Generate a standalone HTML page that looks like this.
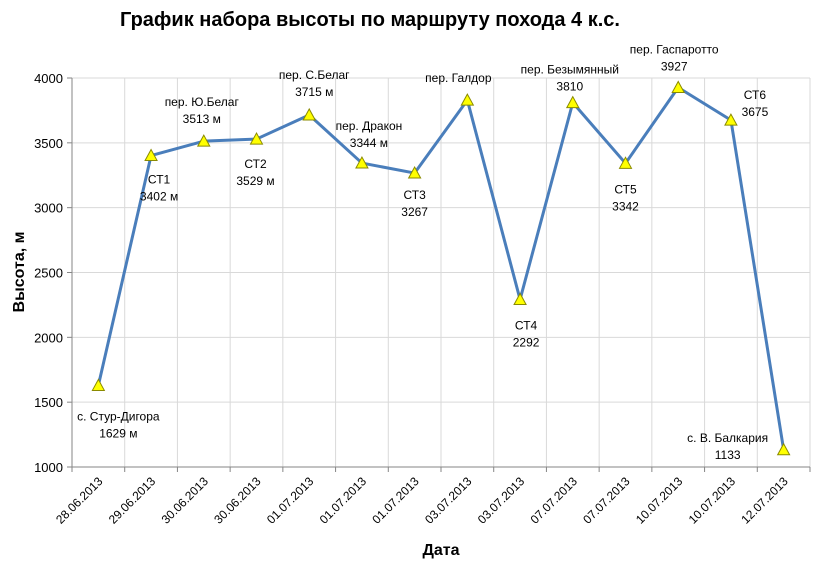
<!DOCTYPE html>
<html><head><meta charset="utf-8"><style>
body{margin:0;background:#fff}
svg text{font-family:"Liberation Sans","DejaVu Sans",sans-serif}
</style></head><body>
<svg id="c" width="830" height="572"></svg>
<script>
const categories=["28.06.2013","29.06.2013","30.06.2013","30.06.2013","01.07.2013","01.07.2013","01.07.2013","03.07.2013","03.07.2013","07.07.2013","07.07.2013","10.07.2013","10.07.2013","12.07.2013"];
const altitudes=[1629,3402,3513,3529,3715,3344,3267,3829,2292,3810,3342,3927,3675,1133];
const pointNames=["с. Стур-Дигора","СТ1","пер. Ю.Белаг","СТ2","пер. С.Белаг","пер. Дракон","СТ3","пер. Галдор","СТ4","пер. Безымянный","СТ5","пер. Гаспаротто","СТ6","с. В. Балкария"];
const valueLabels=["1629 м","3402 м","3513 м","3529 м","3715 м","3344 м","3267","","2292","3810","3342","3927","3675","1133"];
const yTicks=[1000,1500,2000,2500,3000,3500,4000];
const labelOffsets=[[20,23],[8,16],[-2,-47],[-1,17],[5,-48],[7,-45],[0,14],[-9,-30],[6,18],[-3,-41],[0,18],[-4,-46],[24,-33],[-56,-20]];
const NS="http://www.w3.org/2000/svg",svg=document.getElementById('c');
const L=72,R=810,T=78,B=467,ymin=1000,ymax=4000;
const bw=(R-L)/categories.length;
const x=i=>L+bw*(i+0.5), y=v=>B-(v-ymin)/(ymax-ymin)*(B-T);
function mk(t,a,p){const e=document.createElementNS(NS,t);for(const k in a)e.setAttribute(k,a[k]);(p||svg).appendChild(e);return e;}
const title=mk('text',{x:370,y:26,'text-anchor':'middle','font-size':20,'font-weight':'bold',fill:'#000'});


title.textContent='График набора высоты по маршруту похода 4 к.с.';
yTicks.forEach(v=>{
  const g=mk('line',{x1:L,x2:R,y1:y(v),y2:y(v),stroke:'#d9d9d9'});
  
  
  mk('line',{x1:L-5,x2:L,y1:y(v),y2:y(v),stroke:'#868686'});
  const t=mk('text',{x:L-9,y:y(v)+5,'text-anchor':'end','font-size':13,fill:'#000'});
  
  
  t.textContent=v;
});
for(let i=1;i<=categories.length;i++){
  const gx=L+bw*i;
  const g=mk('line',{x1:gx,x2:gx,y1:T,y2:B,stroke:'#d9d9d9'});
  
  
}
for(let i=0;i<=categories.length;i++){mk('line',{x1:L+bw*i,x2:L+bw*i,y1:B,y2:B+5,stroke:'#868686'});}
mk('line',{x1:L,x2:L,y1:T,y2:B,stroke:'#868686'});
mk('line',{x1:L,x2:R,y1:B,y2:B,stroke:'#868686'});
categories.forEach((c,i)=>{
  const t=mk('text',{x:0,y:0,'text-anchor':'end','font-size':12,fill:'#000',transform:`translate(${x(i)+5},${B+15}) rotate(-45)`});
  
  
  t.textContent=c;
});
const line=mk('polyline',{points:altitudes.map((v,i)=>x(i)+','+y(v)).join(' '),fill:'none',stroke:'#4a7ebb','stroke-width':3,'stroke-linejoin':'round'});


altitudes.forEach((v,i)=>{
  const px=x(i),py=y(v);
  const m=mk('polygon',{points:`${px},${py-6} ${px-6},${py+5} ${px+6},${py+5}`,fill:'#ffff00',stroke:'#8a8a00','stroke-width':1});
  
  
  const o=labelOffsets[i];
  const t1=mk('text',{x:px+o[0],y:py+o[1]+12,'text-anchor':'middle','font-size':12,fill:'#000'});
  
  
  t1.textContent=pointNames[i];
  if(valueLabels[i]){
    const t2=mk('text',{x:px+o[0],y:py+o[1]+29,'text-anchor':'middle','font-size':12,fill:'#000'});
    
    
    t2.textContent=valueLabels[i];
  }
});
const xt=mk('text',{x:441,y:555,'text-anchor':'middle','font-size':16,'font-weight':'bold',fill:'#000'});


xt.textContent='Дата';
const yt=mk('text',{x:0,y:0,'text-anchor':'middle','font-size':16,'font-weight':'bold',fill:'#000',transform:'translate(24,272) rotate(-90)'});


yt.textContent='Высота, м';
</script>
</body></html>
